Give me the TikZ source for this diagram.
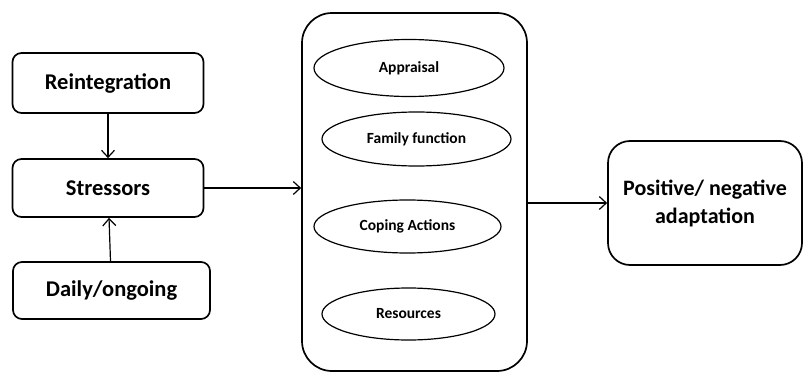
\documentclass[tikz,border=0pt]{standalone}
\usepackage{fontspec}
\setmainfont{Carlito}
\usetikzlibrary{shapes.geometric,arrows.meta}
\begin{document}
\begin{tikzpicture}[x=1pt,y=-1pt,
  box/.style={draw,line width=1.7pt,rounded corners=9pt,font=\bfseries\fontsize{22.5}{26}\selectfont,inner sep=0pt},
  oval/.style={draw,ellipse,line width=1.2pt,font=\bfseries\fontsize{15.5}{18}\selectfont,inner sep=0pt},
  conn/.style={line width=1.2pt,-{Straight Barb[length=7pt,width=13pt]}}]
\useasboundingbox (0,0) rectangle (804,372);
\node[box,minimum width=191pt,minimum height=60pt] (re) at (108,83) {Reintegration};
\node[box,minimum width=191pt,minimum height=58pt] (st) at (108,188) {Stressors};
\node[box,minimum width=197pt,minimum height=57pt] (da) at (111.5,290.5) {Daily/ongoing};
\node[draw,line width=1.7pt,rounded corners=30pt,minimum width=225pt,minimum height=358pt] (big) at (414.5,192) {};
\node[oval,minimum width=190pt,minimum height=57pt] (ap) at (409,68) {Appraisal};
\node[oval,minimum width=189pt,minimum height=54pt] (ff) at (416.5,139) {Family function};
\node[oval,minimum width=187pt,minimum height=53pt] (co) at (407.5,226.5) {Coping Actions};
\node[oval,minimum width=173pt,minimum height=52pt] (rs) at (408.5,314) {Resources};
\node[box,rounded corners=22pt,minimum width=194pt,minimum height=124pt,align=center,font=\bfseries\fontsize{22}{28}\selectfont] (pn) at (705,203) {Positive/ negative\\adaptation};
\draw[conn] (re) -- (st);
\draw[conn] (da) -- (st);
\draw[conn] (st) -- (big.west |- st);
\draw[conn] (big.east |- pn) -- (pn);
\end{tikzpicture}
\end{document}
